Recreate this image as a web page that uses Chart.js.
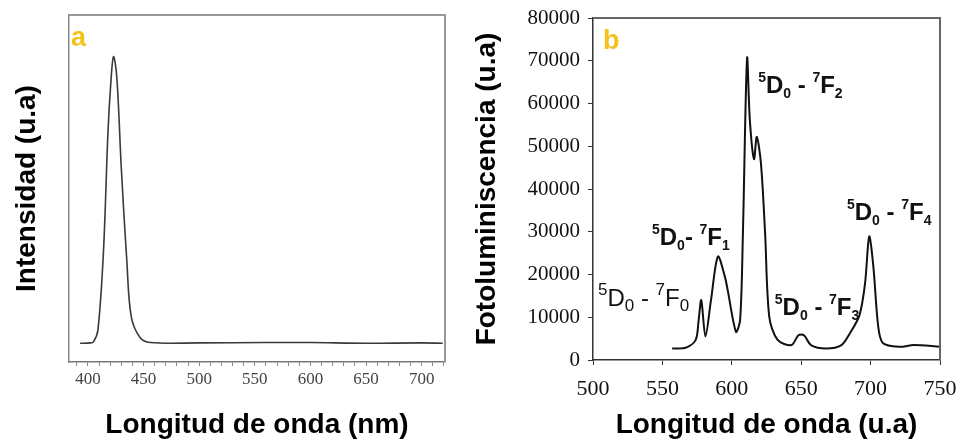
<!DOCTYPE html>
<html>
<head>
<meta charset="utf-8">
<script src="https://cdn.jsdelivr.net/npm/chart.js@4"></script>
<style>
  body { margin: 0; background: #fff; width: 959px; height: 445px; overflow: hidden; }
  .panel { position: absolute; top: 0; height: 445px; }
  #wrapA { left: 0; width: 460px; }
  #wrapB { left: 460px; width: 499px; }
</style>
</head>
<body>
<div class="panel" id="wrapA"><canvas id="chartA" width="460" height="445"></canvas></div>
<div class="panel" id="wrapB"><canvas id="chartB" width="499" height="445"></canvas></div>
<script>
// Panel a: emission spectrum (wavelength nm, arbitrary intensity)
const waveA = [393, 402, 405, 409, 414, 418, 420.5, 423, 426, 430, 435, 439, 447, 456, 500, 560, 600, 650, 700, 719];
const intensA = [5.4, 5.5, 5.8, 9.2, 32, 66, 80, 88, 82, 56, 29, 13, 7, 5.6, 5.5, 5.6, 5.6, 5.4, 5.5, 5.4];

// Panel b: photoluminescence spectrum
const waveB = [557, 567, 574, 576, 578, 581, 585, 590, 595, 597, 603, 606, 608, 611, 613, 616, 618, 621, 624, 627, 633, 643, 648, 652, 657, 668, 679, 685, 692, 696, 699, 702, 705.5, 709, 721, 731, 750];
const photoB = [2700, 2900, 4700, 9000, 14000, 5500, 14000, 24200, 19500, 16400, 6600, 9400, 29600, 70600, 56100, 47000, 52200, 46000, 29600, 10100, 4700, 3500, 5800, 5800, 3500, 2700, 3500, 6200, 10500, 17900, 28900, 21800, 7800, 3900, 3100, 3500, 3100];

// final-state J index of each 5D0 -> 7FJ transition
const transitions = ['0', '1', '2', '3', '4'];

const sans = "'Liberation Sans', Arial, sans-serif";
const serif = "'Liberation Serif', 'Times New Roman', serif";

// keep the plot area exactly where layout.padding puts it
function fitX(h) {
  return s => { s.height = h; s.paddingLeft = 0; s.paddingRight = 0; };
}
function fitY(w) {
  return s => { s.width = w; s.paddingTop = 0; s.paddingBottom = 0; };
}

// draws a box round the plot area and a panel letter
function framePlugin(letter, color, size) {
  return {
    id: 'frame',
    afterDraw(chart) {
      const { ctx, chartArea: a } = chart;
      ctx.save();
      ctx.strokeStyle = color;
      ctx.lineWidth = size;
      ctx.beginPath();
      ctx.moveTo(a.left, a.top);
      ctx.lineTo(a.right, a.top);
      ctx.lineTo(a.right, a.bottom);
      ctx.stroke();
      ctx.fillStyle = '#f3c21b';
      ctx.font = 'bold 27px ' + sans;
      ctx.textBaseline = 'alphabetic';
      ctx.fillText(letter, a.left + (letter === 'a' ? 2 : 10), a.top + 31);
      ctx.restore();
    }
  };
}

const chartA = new Chart(document.getElementById('chartA'), {
  type: 'line',
  data: {
    datasets: [{
      data: waveA.map((x, i) => ({ x: x, y: intensA[i] })),
      borderColor: '#3a3a3a',
      borderWidth: 1.6,
      pointRadius: 0,
      tension: 0.35,
      fill: false
    }]
  },
  options: {
    responsive: false,
    animation: false,
    layout: { padding: { top: 15, right: 15, left: 0, bottom: 0 } },
    plugins: { legend: { display: false }, tooltip: { enabled: false } },
    scales: {
      x: {
        type: 'linear',
        min: 383,
        max: 721,
        afterFit: fitX(83),
        border: { color: '#777', width: 1.5 },
        grid: { drawOnChartArea: false, tickLength: 4, color: '#888' },
        ticks: {
          stepSize: 10,
          includeBounds: false,
          autoSkip: false,
          maxRotation: 0,
          padding: 3,
          color: '#444',
          font: { family: serif, size: 17 },
          callback: v => (v % 50 === 0 ? v : '')
        },
        title: {
          display: true,
          text: 'Longitud de onda (nm)',
          color: '#000',
          font: { family: sans, size: 28, weight: 'bold' },
          padding: { top: 0, bottom: 3 }
        }
      },
      y: {
        min: 0,
        max: 100,
        afterFit: fitY(69),
        border: { color: '#888', width: 1.5 },
        grid: { display: false },
        ticks: { display: false },
        title: {
          display: true,
          text: 'Intensidad (u.a)',
          color: '#000',
          font: { family: sans, size: 28, weight: 'bold' },
          padding: { top: 10, bottom: 0 }
        }
      }
    }
  },
  plugins: [framePlugin('a', '#999', 2)]
});

// transition annotations (5D0 - 7FJ), anchored in data units
const annotPlugin = {
  id: 'annot',
  afterDraw(chart) {
    const { ctx, scales } = chart;
    const spots = [
      { x: 503.6, y: 12600, bold: false, sep: ' - ' },
      { x: 542.5, y: 26900, bold: true, sep: '- ' },
      { x: 619, y: 62400, bold: true, sep: ' - ' },
      { x: 631, y: 10500, bold: true, sep: ' - ' },
      { x: 683, y: 32700, bold: true, sep: ' - ' }
    ];
    ctx.save();
    ctx.fillStyle = '#111';
    ctx.textBaseline = 'alphabetic';
    spots.forEach((s, i) => {
      let px = scales.x.getPixelForValue(s.x);
      const py = scales.y.getPixelForValue(s.y);
      const w = s.bold ? 'bold ' : '';
      const big = w + '24px ' + sans;
      const small = w + (s.bold ? '14px ' : '17px ') + sans;
      const parts = [
        ['5', small, -11], ['D', big, 0], ['0', small, 5],
        [s.sep, big, 0], ['7', small, -11], ['F', big, 0], [transitions[i], small, 5]
      ];
      parts.forEach(p => {
        ctx.font = p[1];
        ctx.fillText(p[0], px, py + p[2]);
        px += ctx.measureText(p[0]).width;
      });
    });
    ctx.restore();
  }
};

const chartB = new Chart(document.getElementById('chartB'), {
  type: 'line',
  data: {
    datasets: [{
      data: waveB.map((x, i) => ({ x: x, y: photoB[i] })),
      borderColor: '#111',
      borderWidth: 2,
      pointRadius: 0,
      tension: 0.3,
      fill: false
    }]
  },
  options: {
    responsive: false,
    animation: false,
    layout: { padding: { top: 18, right: 19, left: 0, bottom: 0 } },
    plugins: { legend: { display: false }, tooltip: { enabled: false } },
    scales: {
      x: {
        type: 'linear',
        min: 500,
        max: 750,
        afterFit: fitX(85),
        border: { color: '#333', width: 1.5 },
        grid: { drawOnChartArea: false, tickLength: 5, color: '#333' },
        ticks: {
          stepSize: 50,
          maxRotation: 0,
          padding: 11,
          color: '#111',
          font: { family: serif, size: 22 },
          callback: v => String(v)
        },
        title: {
          display: true,
          text: 'Longitud de onda (u.a)',
          color: '#000',
          font: { family: sans, size: 28, weight: 'bold' },
          padding: { top: 0, bottom: 3 }
        }
      },
      y: {
        min: 0,
        max: 80000,
        afterFit: fitY(133),
        border: { color: '#333', width: 1.5 },
        grid: { drawOnChartArea: false, tickLength: 5, color: '#333' },
        ticks: {
          stepSize: 10000,
          padding: 8,
          color: '#111',
          font: { family: serif, size: 21 },
          callback: v => String(v)
        },
        title: {
          display: true,
          text: 'Fotoluminiscencia (u.a)',
          color: '#000',
          font: { family: sans, size: 28, weight: 'bold' },
          padding: { top: 10, bottom: 0 }
        }
      }
    }
  },
  plugins: [framePlugin('b', '#666', 2), annotPlugin]
});
</script>
</body>
</html>
